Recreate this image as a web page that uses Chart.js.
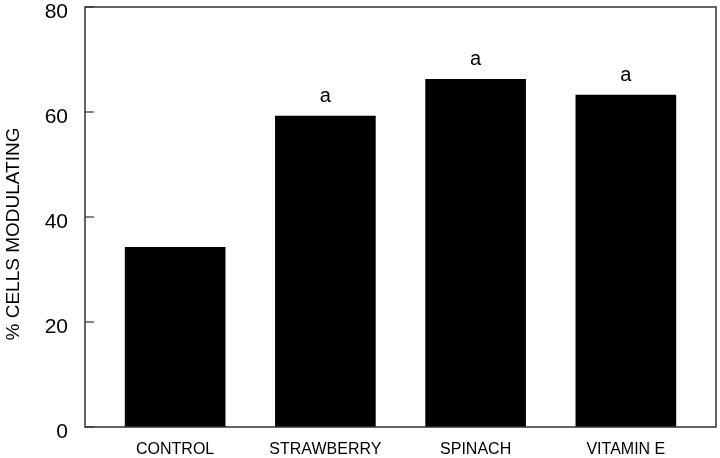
<!DOCTYPE html>
<html><head><meta charset="utf-8">
<script src="https://cdn.jsdelivr.net/npm/chart.js@4"></script>
<style>html,body{margin:0;padding:0;background:#fff}#wrap{width:720px;height:458px}</style>
</head><body><div id="wrap"><canvas id="c" width="720" height="458"></canvas></div>
<script>
const categories = ["CONTROL", "STRAWBERRY", "SPINACH", "VITAMIN E"];
const cellsModulating = [34.2, 59.2, 66.2, 63.2];
const sigLabels = ["", "a", "a", "a"];
const yTicks = [0, 20, 40, 60, 80];
const yTitle = "% CELLS MODULATING";

const FONT = "'Liberation Sans', Arial, sans-serif";

const framePlugin = {
  id: 'frame',
  afterDraw(chart) {
    const {ctx, chartArea: a, scales} = chart;
    ctx.save();
    ctx.strokeStyle = '#333';
    ctx.lineWidth = 1.5;
    ctx.strokeRect(a.left, a.top, a.right - a.left, a.bottom - a.top);
    // inward ticks on y axis
    ctx.lineWidth = 1.2;
    yTicks.forEach(v => {
      const y = scales.y.getPixelForValue(v);
      ctx.beginPath();
      ctx.moveTo(a.left, y);
      ctx.lineTo(a.left + 9, y);
      ctx.stroke();
    });
    // significance letters
    ctx.fillStyle = '#000';
    ctx.font = '20px ' + FONT;
    ctx.textAlign = 'center';
    ctx.textBaseline = 'bottom';
    const meta = chart.getDatasetMeta(0);
    meta.data.forEach((bar, i) => {
      if (sigLabels[i]) ctx.fillText(sigLabels[i], bar.x, bar.y - 10);
    });
    // y axis title
    ctx.font = '19px ' + FONT;
    ctx.textBaseline = 'middle';
    ctx.translate(14, 234);
    ctx.rotate(-Math.PI / 2);
    ctx.fillText(yTitle, 0, 0);
    ctx.restore();
  }
};

new Chart(document.getElementById('c'), {
  type: 'bar',
  data: {
    datasets: [{
      data: categories.map((c, i) => ({x: i, y: cellsModulating[i]})),
      backgroundColor: '#000',
      borderWidth: 0,
      barThickness: 100
    }]
  },
  options: {
    responsive: false,
    animation: false,
    layout: {padding: {top: 7, right: 4, left: 0, bottom: 0}},
    plugins: {legend: {display: false}, tooltip: {enabled: false}},
    scales: {
      x: {
        type: 'linear',
        offset: false,
        min: -0.6,
        max: 3.6,
        afterBuildTicks: s => { s.ticks = categories.map((c, i) => ({value: i})); },
        afterFit: s => { s.height = 31; s.paddingLeft = 0; s.paddingRight = 0; },
        grid: {display: false, drawTicks: false},
        border: {display: false},
        ticks: {
          callback: v => categories[v],
          color: '#000',
          font: {family: FONT, size: 16},
          padding: 13,
          maxRotation: 0,
          autoSkip: false
        }
      },
      y: {
        min: 0,
        max: 80,
        afterBuildTicks: s => { s.ticks = yTicks.map(v => ({value: v})); },
        afterFit: s => { s.width = 85; s.paddingTop = 0; s.paddingBottom = 0; },
        grid: {display: false, drawTicks: false},
        border: {display: false},
        ticks: {
          color: '#000',
          font: {family: FONT, size: 21},
          padding: 17,
          labelOffset: 5
        }
      }
    }
  },
  plugins: [framePlugin]
});
</script>
</body></html>
